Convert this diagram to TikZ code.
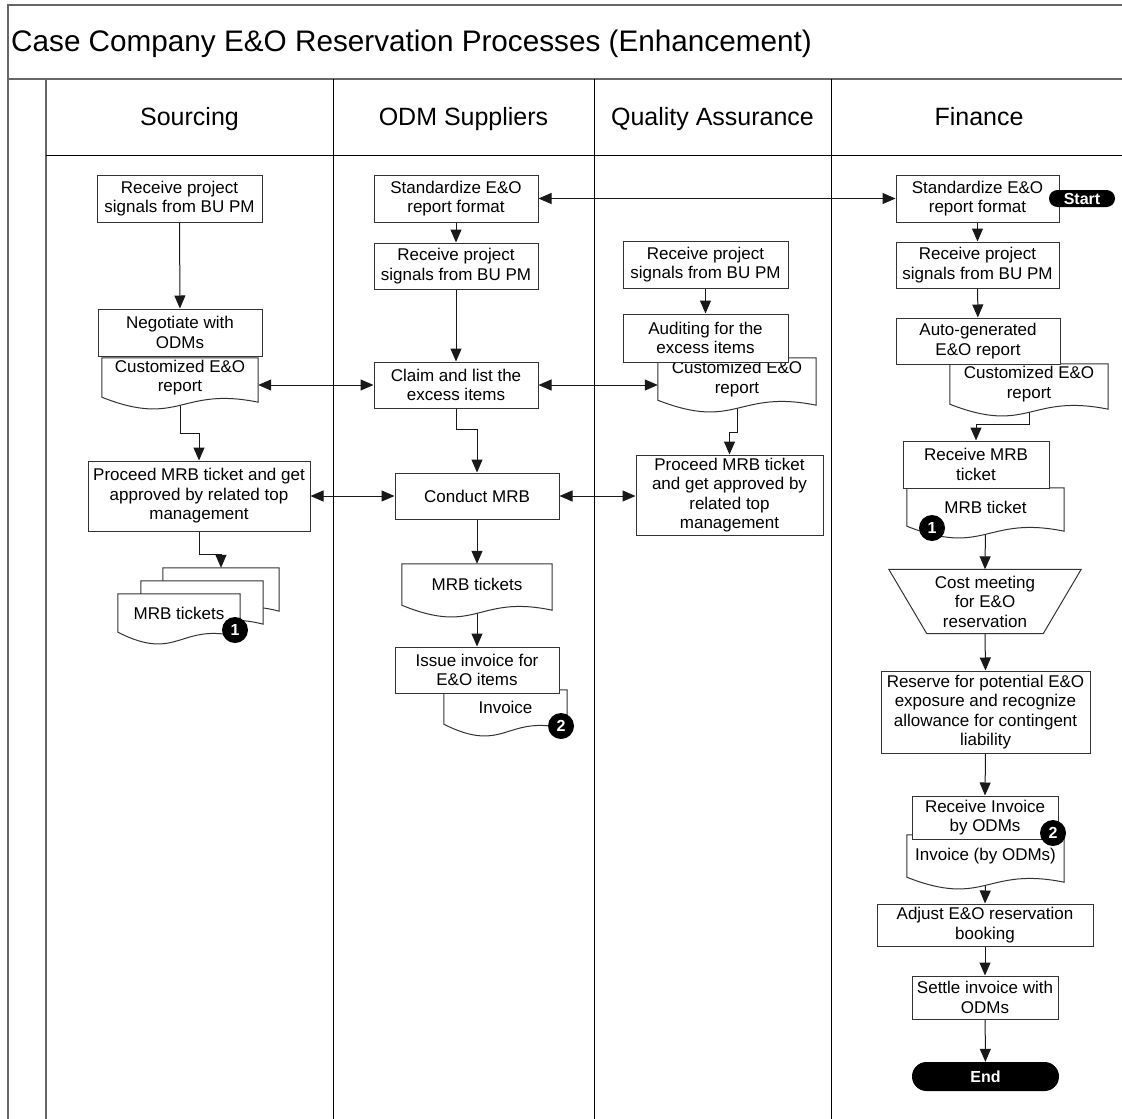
\documentclass[tikz,border=0pt]{standalone}
\usepackage{fontspec}
\setmainfont{Liberation Sans}
\usetikzlibrary{arrows.meta,calc,shapes.misc}
\pgfdeclarelayer{lines}
\pgfdeclarelayer{docs}
\pgfsetlayers{lines,docs,main}

\tikzset{
  boxfont/.style={font=\fontsize{17}{19.5}\selectfont},
  box/.style={boxfont, draw=black!80, line width=1pt, fill=white, inner sep=0pt, align=center},
  doctext/.style={boxfont, inner sep=0pt, align=center},
  docline/.style={draw=black!80, line width=1pt, fill=white},
  tip/.style={Triangle[length=13pt,width=11pt]},
  flow/.style={draw=black!90, line width=1pt, -{Triangle[length=13pt,width=11pt]}},
  twoway/.style={draw=black!90, line width=1pt, {Triangle[length=13pt,width=11pt]}-{Triangle[length=13pt,width=11pt]}},
  badge/.style={circle, fill=black, text=white, inner sep=0pt, minimum size=26pt, font=\fontsize{16}{16}\selectfont\bfseries},
  terminal/.style={rounded rectangle, fill=black, text=white, inner sep=0pt, font=\fontsize{16}{16}\selectfont\bfseries},
  frame/.style={draw=black!60, line width=2pt},
  lane/.style={draw=black, line width=1pt},
  lanehead/.style={anchor=base, inner sep=0pt, font=\fontsize{25}{30}\selectfont},
}

% document symbol drawn around a text node: straight top and sides, wavy bottom
\newcommand\wavedoc[1]{%
  \begin{pgfonlayer}{docs}
    \path[docline] (#1.north west) -- (#1.north east) -- ($(#1.south east)+(0,5)$)
      .. controls ($(#1.south)+(0,-11)$) and ($(#1.south)+(0,31)$) .. (#1.south west) -- cycle;
  \end{pgfonlayer}}

\begin{document}
\begin{tikzpicture}[x=1pt,y=-1pt]
\useasboundingbox (0,0) rectangle (1122,1119);
\clip (0,0) rectangle (1122,1119);

% ---------- pool and swimlanes ----------
\begin{pgfonlayer}{lines}
  \fill[white] (0,0) rectangle (1122,1119);
  \draw[frame] (8,1140) -- (8,5) -- (1140,5);
  \draw[frame] (8,79) -- (1140,79);
  \draw[frame] (46,79) -- (46,1140);
  \draw[draw=black, line width=1pt] (46,155) -- (1140,155);
  \draw[lane] (333,79) -- (333,1140);
  \draw[lane] (594,79) -- (594,1140);
  \draw[lane] (831,79) -- (831,1140);
\end{pgfonlayer}

\node[anchor=base west, inner sep=0pt, font=\fontsize{29.7}{34}\selectfont] (title) at (11,51)
  {Case Company E\&O Reservation Processes (Enhancement)};
\node[lanehead] (hsrc) at (189.5,125) {Sourcing};
\node[lanehead] (hodm) at (463.5,125) {ODM Suppliers};
\node[lanehead] (hqa)  at (712.5,125) {Quality Assurance};
\node[lanehead] (hfin) at (979,125) {Finance};

% ---------- documents (text nodes; outlines go on the docs layer) ----------
\node[doctext, minimum width=156pt, minimum height=39pt] (s3) at (180,377.5) {Customized E\&O\\report};
\wavedoc{s3}
\node[minimum width=116pt, minimum height=38pt, inner sep=0pt] (s5back) at (221,587) {};
\wavedoc{s5back}
\node[minimum width=122pt, minimum height=38pt, inner sep=0pt] (s5mid) at (202,600) {};
\wavedoc{s5mid}
\node[doctext, minimum width=122pt, minimum height=38pt] (s5) at (179,613) {MRB tickets};
\wavedoc{s5}

\node[doctext, minimum width=150pt, minimum height=41pt] (o5) at (477,584.5) {MRB tickets};
\wavedoc{o5}
\node[doctext, minimum width=123pt, minimum height=34pt] (o7) at (505.5,707) {Invoice};
\wavedoc{o7}

\node[doctext, minimum width=158pt, minimum height=42pt] (q3) at (737,379) {Customized E\&O\\report};
\wavedoc{q3}

\node[doctext, minimum width=158pt, minimum height=40pt] (f4) at (1029,384) {Customized E\&O\\report};
\wavedoc{f4}
\node[doctext, minimum width=157pt, minimum height=38pt] (f6) at (985.5,507) {MRB ticket};
\wavedoc{f6}
\node[doctext, minimum width=157pt, minimum height=42pt] (f10) at (985.5,856) {Invoice (by ODMs)};
\wavedoc{f10}

% manual operation (trapezoid)
\node[doctext, minimum width=192pt, minimum height=64pt] (f7) at (985,601.5) {Cost meeting\\for E\&O\\reservation};
\begin{pgfonlayer}{docs}
  \path[docline] (f7.north west) -- (f7.north east) -- ($(f7.south east)+(-38,0)$)
    -- ($(f7.south west)+(38,0)$) -- cycle;
\end{pgfonlayer}

% ---------- process boxes ----------
\node[box, minimum width=165pt, minimum height=47pt] (s1) at (179.5,198.5) {Receive project\\signals from BU PM};
\node[box, minimum width=164pt, minimum height=47pt] (s2) at (180,332.5) {Negotiate with\\ODMs};
\node[box, minimum width=222pt, minimum height=70pt] (s4) at (199,496) {Proceed MRB ticket and get\\approved by related top\\management};

\node[box, minimum width=164pt, minimum height=47pt] (o1) at (456,198.5) {Standardize E\&O\\report format};
\node[box, minimum width=164pt, minimum height=46pt] (o2) at (456,266) {Receive project\\signals from BU PM};
\node[box, minimum width=164pt, minimum height=46pt] (o3) at (456,385) {Claim and list the\\excess items};
\node[box, minimum width=164pt, minimum height=46pt] (o4) at (477,496) {Conduct MRB};
\node[box, minimum width=164pt, minimum height=46pt] (o6) at (477,670) {Issue invoice for\\E\&O items};

\node[box, minimum width=165pt, minimum height=47pt] (q1) at (705.5,264.5) {Receive project\\signals from BU PM};
\node[box, minimum width=165pt, minimum height=48pt] (q2) at (705.5,338) {Auditing for the\\excess items};
\node[box, minimum width=187pt, minimum height=80pt] (q4) at (729.5,495) {Proceed MRB ticket\\and get approved by\\related top\\management};

\node[box, minimum width=163pt, minimum height=47pt] (f1) at (977.5,198.5) {Standardize E\&O\\report format};
\node[box, minimum width=163pt, minimum height=46pt] (f2) at (977.5,265) {Receive project\\signals from BU PM};
\node[box, minimum width=164pt, minimum height=46pt] (f3) at (978,341) {Auto-generated\\E\&O report};
\node[box, minimum width=146pt, minimum height=47pt] (f5) at (976,464.5) {Receive MRB\\ticket};
\node[box, minimum width=209pt, minimum height=82pt] (f8) at (985.5,712) {Reserve for potential E\&O\\exposure and recognize\\allowance for contingent\\liability};
\node[box, minimum width=146pt, minimum height=43pt] (f9) at (985,817.5) {Receive Invoice\\by ODMs};
\node[box, minimum width=216pt, minimum height=42pt] (f11) at (985,925) {Adjust E\&O reservation\\booking};
\node[box, minimum width=146pt, minimum height=43pt] (f12) at (985,997.5) {Settle invoice with\\ODMs};

% ---------- terminators ----------
\node[terminal, minimum width=66pt, minimum height=17pt] (start) at (1082,198.5) {Start};
\node[terminal, minimum width=147pt, minimum height=29pt] (end) at (985.5,1076.5) {End};

% ---------- off-page references ----------
\node[badge] (ref1a) at (235,630) {1};
\node[badge] (ref2a) at (561,726) {2};
\node[badge] (ref1b) at (932,528) {1};
\node[badge] (ref2b) at (1053,833) {2};

% ---------- connectors ----------
\begin{pgfonlayer}{lines}
  % Sourcing
  \draw[flow] (s1) -- (s2);
  \draw[flow] (s3.south) |- ([yshift=27pt]s4.north) -- (s4.north);
  \draw[flow] (s4.south) |- ([yshift=13pt]s5back.north) -- (s5back.north);
  % ODM suppliers
  \draw[flow] (o1) -- (o2);
  \draw[flow] (o2) -- (o3);
  \draw[flow] (o3.south) |- ([yshift=43pt]o4.north) -- (o4.north);
  \draw[flow] (o4) -- (o5.north);
  \draw[flow] (o5.south) -- (o6.north);
  % Quality assurance
  \draw[flow] (q1) -- (q2);
  \draw[flow] (q3.south) |- ([yshift=22pt]q4.north) -- (q4.north);
  % Finance
  \draw[flow] (f1) -- (f2);
  \draw[flow] (f2) -- (f3);
  \draw[flow] (f4.south) |- ([yshift=16pt]f5.north) -- (f5.north);
  \draw[flow] (f6.south) -- (f7.north);
  \draw[flow] (f7.south) -- (f8.north);
  \draw[flow] (f8.south) -- (f9.north);
  \draw[flow] (f10.south) -- (f11.north);
  \draw[flow] (f11) -- (f12);
  \draw[flow] (f12) -- (end);
  % exchanges between lanes
  \draw[twoway] (o1.east) -- (f1.west);
  \draw[twoway] (s3.east |- o3.west) -- (o3.west);
  \draw[twoway] (o3.east) -- (q3.west |- o3.east);
  \draw[twoway] (s4.east) -- (o4.west);
  \draw[twoway] (o4.east) -- (q4.west |- o4.east);
\end{pgfonlayer}
\end{tikzpicture}
\end{document}
